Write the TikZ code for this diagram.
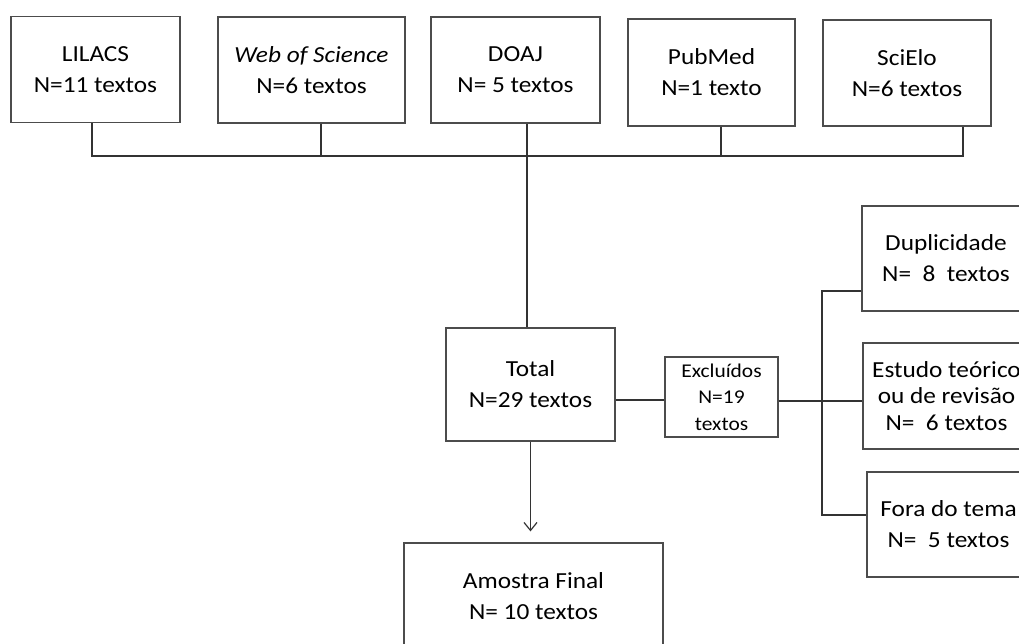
\documentclass[tikz,border=0pt]{standalone}
\usepackage{fontspec}
\setmainfont{Carlito}[FakeStretch=1.1]
\usetikzlibrary{arrows.meta}
\tikzset{
  box/.style={draw=black!70, line width=1.2pt, align=center, inner sep=0pt,
    font=\fontsize{23}{31}\selectfont},
  threebox/.style={box, font=\fontsize{23}{26.5}\selectfont},
  smallbox/.style={box, font=\fontsize{19.5}{26.5}\selectfont},
  conn/.style={draw=black!80, line width=1.2pt},
}
\begin{document}
\begin{tikzpicture}[x=1pt,y=-1pt]
\clip (0,0) rectangle (1019,644);
\fill[white] (0,0) rectangle (1019,644);
% top row
\node[box, minimum width=169pt, minimum height=106pt] (lil) at (95.5,69.5) {LILACS\\N=11 textos};
\node[box, minimum width=187pt, minimum height=106pt] (wos) at (311.5,70) {\textit{Web of Science}\\N=6 textos};
\node[box, minimum width=169pt, minimum height=106pt] (doaj) at (515.5,70) {DOAJ\\N= 5 textos};
\node[box, minimum width=167pt, minimum height=107pt] (pub) at (711.5,72.5) {PubMed\\N=1 texto};
\node[box, minimum width=168pt, minimum height=106pt] (sci) at (907,73) {SciElo\\N=6 textos};
% middle
\node[box, minimum width=169pt, minimum height=113pt] (tot) at (530.5,384.5) {Total\\N=29 textos};
\node[smallbox, minimum width=113pt, minimum height=80pt] (exc) at (721.5,397) {Exclu\'idos\\N=19\\textos};
% right column
\node[box, minimum width=168pt, minimum height=105pt] (dup) at (946,258.5) {Duplicidade\\N=\ \ 8\ \ textos};
\node[threebox, minimum width=167pt, minimum height=106pt] (est) at (946.5,396) {Estudo te\'orico\\ou de revis\~ao\\N=\ \ 6 textos};
\node[box, minimum width=163pt, minimum height=105pt] (fora) at (948.5,524.5) {Fora do tema\\N=\ \ 5 textos};
% bottom
\node[box, minimum width=259pt, minimum height=106pt] (amo) at (533.5,596) {Amostra Final\\N= 10 textos};
% top collector bar
\coordinate (bar) at (0,156);
\coordinate (brk) at (822,0);
\draw[conn] ([xshift=-3.5pt]lil.south) -- ([xshift=-3.5pt]lil.south |- bar)
  -- ([xshift=56pt]sci.south |- bar) -- ([xshift=56pt]sci.south);
\draw[conn] ([xshift=9.5pt]wos.south) -- ([xshift=9.5pt]wos.south |- bar);
\draw[conn] ([xshift=9.5pt]pub.south) -- ([xshift=9.5pt]pub.south |- bar);
\draw[conn] ([xshift=-3.5pt]tot.north |- doaj.south) -- ([xshift=-3.5pt]tot.north);
% exclusions
\draw[conn] ([yshift=-3pt]exc.west -| tot.east) -- ([yshift=-3pt]exc.west);
\draw[conn] ([yshift=-4pt]exc.east) -- ([yshift=-4pt]exc.east -| est.west);
\draw[conn] ([yshift=-32.5pt]dup.west) -- ([yshift=-32.5pt]dup.west -| brk)
  -- ([yshift=9.5pt]fora.west -| brk) -- ([yshift=9.5pt]fora.west);
% arrow to final
\draw[conn, -{Straight Barb[length=8pt,width=13pt,line width=1.2pt]}, shorten >=11pt] (tot.south) -- (tot.south |- amo.north);
\end{tikzpicture}
\end{document}
